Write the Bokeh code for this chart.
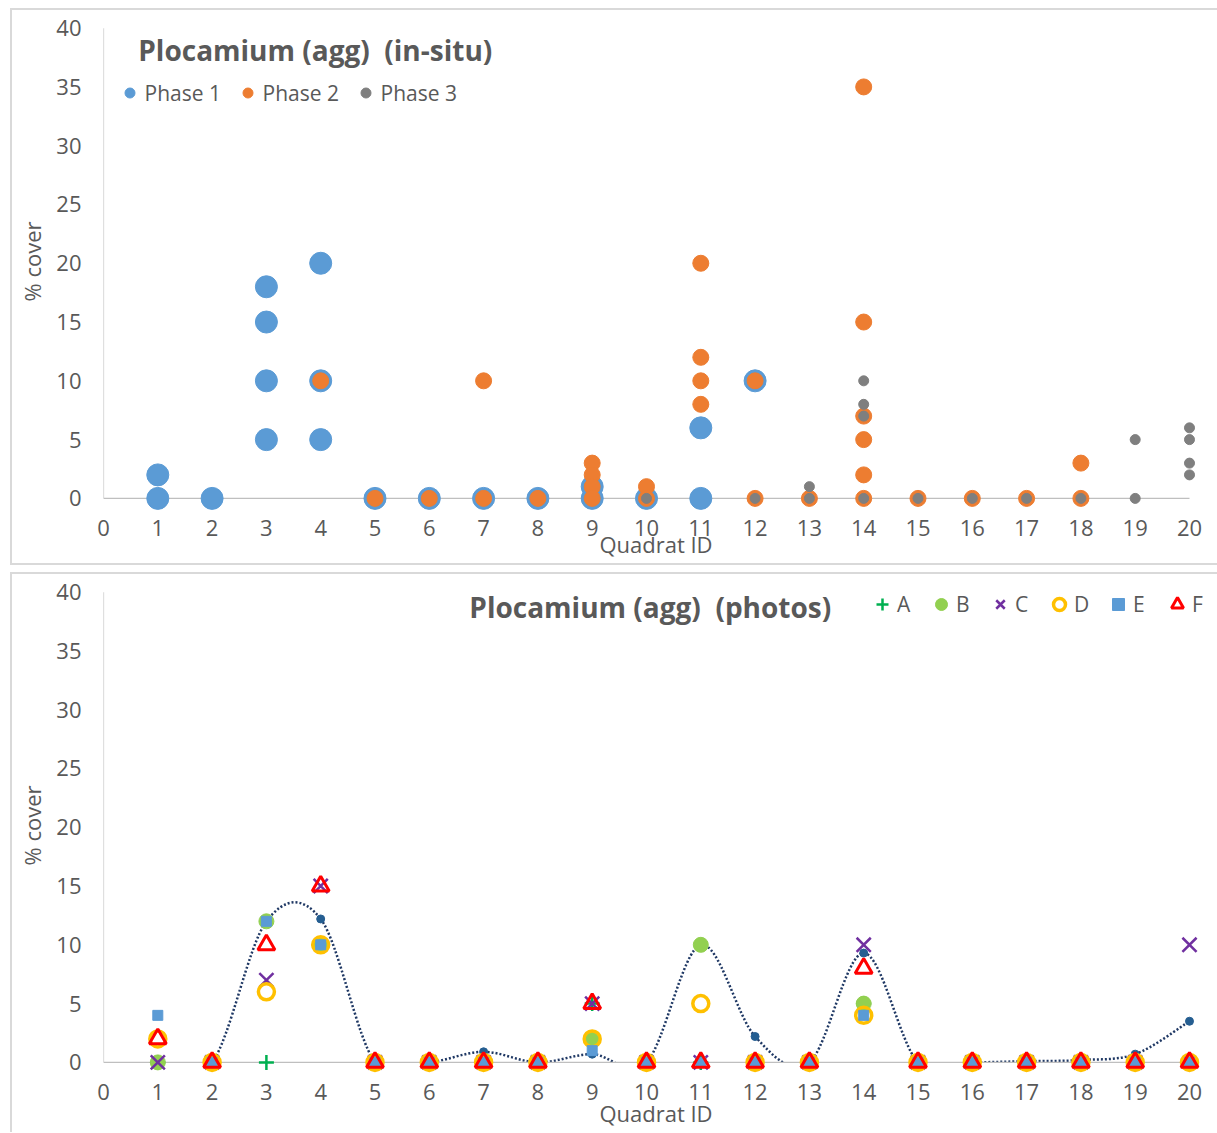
from bokeh.plotting import figure
from bokeh.layouts import column
from bokeh.models import Label, Legend, LegendItem, FixedTicker, Range1d
from bokeh.embed import file_html
from bokeh.resources import INLINE

# ---------------- data ----------------
quadrat_ticks = list(range(0, 21))
cover_ticks = [0, 5, 10, 15, 20, 25, 30, 35, 40]

# in-situ survey (top chart)
phase1_quadrat = [1, 1, 2, 3, 3, 3, 3, 4, 4, 4, 5, 6, 7, 8, 9, 9, 10, 11, 11, 12]
phase1_cover = [2, 0, 0, 18, 15, 10, 5, 20, 10, 5, 0, 0, 0, 0, 1, 0, 0, 6, 0, 10]

phase2_quadrat = [4, 5, 6, 7, 7, 8, 9, 9, 9, 9, 10, 10, 11, 11, 11, 11, 12, 12, 13,
                  14, 14, 14, 14, 14, 14, 15, 16, 17, 18, 18]
phase2_cover = [10, 0, 0, 10, 0, 0, 3, 2, 1, 0, 1, 0, 20, 12, 10, 8, 10, 0, 0,
                35, 15, 7, 5, 2, 0, 0, 0, 0, 3, 0]

phase3_quadrat = [10, 12, 13, 13, 14, 14, 14, 14, 15, 16, 17, 18, 19, 19, 20, 20, 20, 20]
phase3_cover = [0, 0, 1, 0, 10, 8, 7, 0, 0, 0, 0, 0, 5, 0, 6, 5, 3, 2]

# photo analysis (bottom chart)
photo_quadrat = list(range(1, 21))
photo_A = [0, 0, 0, 10, 0, 0, 0, 0, 5, 0, 0, 0, 0, 5, 0, 0, 0, 0, 0, 0]
photo_B = [0, 0, 12, 10, 0, 0, 0, 0, 2, 0, 10, 0, 0, 5, 0, 0, 0, 0, 0, 0]
photo_C = [0, 0, 7, 15, 0, 0, 0, 0, 5, 0, 0, 0, 0, 10, 0, 0, 0, 0, 0, 10]
photo_D = [2, 0, 6, 10, 0, 0, 0, 0, 2, 0, 5, 0, 0, 4, 0, 0, 0, 0, 0, 0]
photo_E = [4, 0, 12, 10, 0, 0, 0, 0, 1, 0, 0, 0, 0, 4, 0, 0, 0, 0, 0, 0]
photo_F = [2, 0, 10, 15, 0, 0, 0, 0, 5, 0, 0, 0, 0, 8, 0, 0, 0, 0, 0, 0]
photo_mean = [0, 0, 12, 12.2, 0, 0, 0.9, 0, 0.7, 0, 10, 2.2, 0, 9.3, 0, 0, 0.1, 0.2, 0.7, 3.5]

# ---------------- style ----------------
FONT = "Open Sans"
TXT = "#595959"
AXIS_GRAY = "#BFBFBF"
X_START, X_END = 0, 20.35
Y_START, Y_END = -1.2, 41.5


def panel_style(top_px, bottom_px):
    g = "linear-gradient(#D9D9D9,#D9D9D9)"
    return {"background": (
        f"{g} 10px {top_px}px / 2px calc(100% - {top_px + bottom_px}px) no-repeat, "
        f"{g} 10px {top_px}px / 100% 2px no-repeat, "
        f"{g} 10px calc(100% - {bottom_px}px) / 100% 2px no-repeat")}


def make_fig(height, top_border, bottom_border, xlabel_standoff, style):
    p = figure(width=1217, height=height, title=None,
               x_range=Range1d(X_START, X_END), y_range=Range1d(Y_START, Y_END),
               output_backend="svg", toolbar_location=None,
               min_border_left=103, min_border_right=9,
               min_border_top=top_border, min_border_bottom=bottom_border,
               border_fill_color=None, background_fill_color="white",
               styles=style)
    p.grid.visible = False
    p.outline_line_color = None
    for ax in (p.xaxis[0], p.yaxis[0]):
        ax.axis_line_color = None
        ax.major_tick_line_color = None
        ax.minor_tick_line_color = None
        ax.major_label_text_font = FONT
        ax.major_label_text_font_size = "22px"
        ax.major_label_text_color = TXT
        ax.axis_label_text_font = FONT
        ax.axis_label_text_font_size = "22px"
        ax.axis_label_text_font_style = "normal"
        ax.axis_label_text_color = TXT
    p.xaxis.ticker = FixedTicker(ticks=quadrat_ticks)
    p.yaxis.ticker = FixedTicker(ticks=cover_ticks)
    p.xaxis.axis_label = "Quadrat ID"
    p.yaxis.axis_label = "% cover"
    p.xaxis.major_label_standoff = 1
    p.xaxis.axis_label_standoff = xlabel_standoff
    p.yaxis.major_label_standoff = 16
    p.yaxis.axis_label_standoff = 6
    return p


def axis_lines(p):
    # horizontal axis at 0 and vertical axis at x=0, spanning the tick ranges
    p.segment(x0=[quadrat_ticks[0]], y0=[cover_ticks[0]], x1=[quadrat_ticks[-1]], y1=[cover_ticks[0]],
              line_color=AXIS_GRAY, line_width=1.2)
    p.segment(x0=[quadrat_ticks[0]], y0=[cover_ticks[0]], x1=[quadrat_ticks[0]], y1=[cover_ticks[-1]],
              line_color=AXIS_GRAY, line_width=1.2)


# ---------------- top chart ----------------
p1 = make_fig(567, 10, 55, -10, panel_style(8, 2))
axis_lines(p1)
r1 = p1.scatter(phase1_quadrat, phase1_cover, size=22, color="#5B9BD5")
r2 = p1.scatter(phase2_quadrat, phase2_cover, size=16, color="#ED7D31")
r3 = p1.scatter(phase3_quadrat, phase3_cover, size=10, color="#7F7F7F")

p1.add_layout(Label(x=3.9, y=38.1, text="Plocamium (agg)\u00a0 (in-situ)",
                    text_font=FONT, text_font_size="28px", text_font_style="bold",
                    text_color=TXT, text_baseline="middle", text_align="center"))

leg1 = Legend(items=[LegendItem(label="Phase 1", renderers=[r1]),
                     LegendItem(label="Phase 2", renderers=[r2]),
                     LegendItem(label="Phase 3", renderers=[r3])],
              orientation="horizontal", location=(13.5, 405.5),
              glyph_width=25, glyph_height=25, label_standoff=3, label_width=80,
              spacing=10, padding=0, margin=0, border_line_color=None,
              background_fill_alpha=0, label_text_font=FONT,
              label_text_font_size="21px", label_text_color=TXT)
p1.add_layout(leg1)

# ---------------- bottom chart ----------------
p2 = make_fig(565, 7, 56, -5, panel_style(5, -10))

# smoothed (Excel-like) line through the mean values
n = len(photo_quadrat)
bx0, by0, bx1, by1, cx0, cy0, cx1, cy1 = ([] for _ in range(8))
for i in range(n - 1):
    i0 = i - 1 if i > 0 else i
    i3 = i + 2 if i + 2 < n else i + 1
    xa, ya = photo_quadrat[i], photo_mean[i]
    xb, yb = photo_quadrat[i + 1], photo_mean[i + 1]
    bx0.append(xa); by0.append(ya); bx1.append(xb); by1.append(yb)
    cx0.append(xa + (xb - photo_quadrat[i0]) / 6.0)
    cy0.append(ya + (yb - photo_mean[i0]) / 6.0)
    cx1.append(xb - (photo_quadrat[i3] - xa) / 6.0)
    cy1.append(yb - (photo_mean[i3] - ya) / 6.0)
p2.bezier(x0=bx0, y0=by0, x1=bx1, y1=by1, cx0=cx0, cy0=cy0, cx1=cx1, cy1=cy1,
          line_color="#1F3864", line_width=2.5, line_dash="2 2")
# hide the part of the smoothed curve below the value axis minimum
p2.quad(left=[X_START], right=[X_END], bottom=[Y_START], top=[cover_ticks[0]],
        fill_color="white", line_color=None)
axis_lines(p2)
p2.scatter(photo_quadrat, photo_mean, size=8, color="#255E91")

ra = p2.scatter(photo_quadrat, photo_A, marker="cross", size=15, line_color="#00B050", line_width=2.5)
rb = p2.scatter(photo_quadrat, photo_B, marker="circle", size=15, color="#92D050")
rc = p2.scatter(photo_quadrat, photo_C, marker="x", size=20, line_color="#7030A0", line_width=2.5)
rd = p2.scatter(photo_quadrat, photo_D, marker="circle", size=16, fill_color=None,
                line_color="#FFC000", line_width=3.5)
re = p2.scatter(photo_quadrat, photo_E, marker="square", size=10, color="#5B9BD5")
rf = p2.scatter(photo_quadrat, photo_F, marker="triangle", size=17, fill_color=None,
                line_color="#FF0000", line_width=3)

p2.add_layout(Label(x=10.07, y=38.7, text="Plocamium (agg)\u00a0 (photos)",
                    text_font=FONT, text_font_size="28px", text_font_style="bold",
                    text_color=TXT, text_baseline="middle", text_align="center"))

leg2 = Legend(items=[LegendItem(label=lab, renderers=[r]) for lab, r in
                     zip(["A", "B", "C", "D", "E", "F"], [ra, rb, rc, rd, re, rf])],
              orientation="horizontal", location=(764, 457),
              glyph_width=30, glyph_height=30, label_standoff=0, label_width=20,
              spacing=9, padding=0, margin=0, border_line_color=None,
              background_fill_alpha=0, label_text_font=FONT,
              label_text_font_size="21px", label_text_color=TXT)
p2.add_layout(leg2)

layout = column(p1, p2, spacing=0)
open("out.html", "w").write(file_html(layout, INLINE))
